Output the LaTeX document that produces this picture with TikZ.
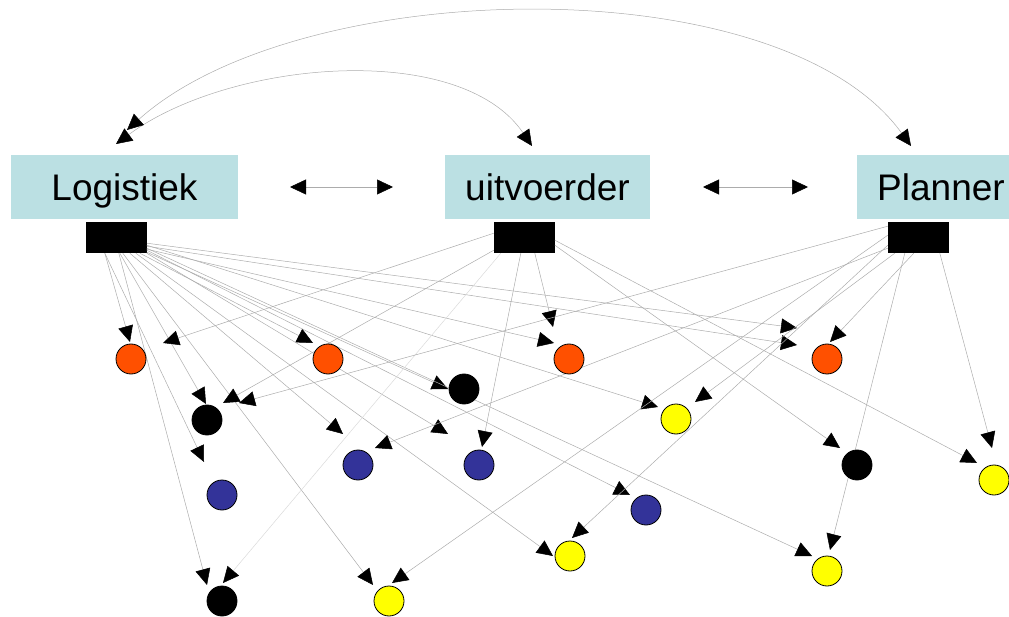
\documentclass[tikz,border=0pt]{standalone}
\usepackage{fontspec}
\setmainfont{Liberation Sans}
\usetikzlibrary{arrows.meta,calc}
\definecolor{boxfill}{RGB}{187,224,227}
\definecolor{orng}{RGB}{255,80,0}
\definecolor{navy}{RGB}{51,51,153}
\definecolor{yel}{RGB}{255,255,0}
\definecolor{wire}{RGB}{172,172,172}
\begin{document}
\begin{tikzpicture}[x=1pt,y=-1pt,
  actor/.style={fill=boxfill, minimum height=64pt, inner sep=0pt,
    font=\fontsize{37}{40}\selectfont, text height=31pt, text depth=3pt},
  port/.style={fill=black, minimum width=61pt, minimum height=31pt, inner sep=0pt},
  dot/.style={circle, draw=black, line width=0.8pt, minimum size=30pt, inner sep=0pt},
  conn/.style={draw=wire, line width=0.5pt, -{Triangle[length=16pt,width=15pt,color=black]}},
  twoway/.style={draw=wire, line width=0.5pt, {Triangle[length=16pt,width=15pt,color=black]}-{Triangle[length=16pt,width=15pt,color=black]}}
  ]
\clip (0,0) rectangle (1009,617);
\useasboundingbox (0,0) rectangle (1009,617);

% actors
\node[actor, minimum width=227pt] (Log) at (124.5,187) {Logistiek};
\node[actor, minimum width=205pt] (Uit) at (547.5,187) {uitvoerder};
\node[actor, minimum width=168pt] (Pla) at (941,187) {Planner};

% ports
\node[port] (rL) at (116.5,237.5) {};
\node[port] (rU) at (524.5,237.5) {};
\node[port] (rP) at (918.5,237.5) {};

% arrow tips
\coordinate (t1) at (130,342);
\coordinate (t2) at (206,404);
\coordinate (t3) at (207,585);
\coordinate (t4) at (313,343);
\coordinate (t5) at (448,389);
\coordinate (t6) at (343,434);
\coordinate (t7) at (373,585);
\coordinate (t8) at (553,556);
\coordinate (t9) at (630,495);
\coordinate (t10) at (812,556);
\coordinate (t11) at (797,328);
\coordinate (t12) at (797,345);
\coordinate (t13) at (554,343);
\coordinate (t14) at (658,407);
\coordinate (t15) at (204,462);
\coordinate (t16) at (448,434);
\coordinate (t17) at (163,343);
\coordinate (t18) at (223,403);
\coordinate (t19) at (553,327);
\coordinate (t20) at (840,448);
\coordinate (t21) at (977,463);
\coordinate (t22) at (482,447);
\coordinate (t23) at (223,583);
\coordinate (t24) at (239,403);
\coordinate (t25) at (375,448);
\coordinate (t26) at (392,583);
\coordinate (t27) at (572,538);
\coordinate (t28) at (695,402);
\coordinate (t29) at (830,342);
\coordinate (t30) at (830,550);
\coordinate (t31) at (992,448);

% from Logistiek port
\draw[conn] ($(rL.south west)+(19,0)$) -- (t1);
\draw[conn] ($(rL.south west)+(34,0)$) -- (t2);
\draw[conn] ($(rL.south west)+(33,0)$) -- (t3);
\draw[conn] ($(rL.south west)+(54,0)$) -- (t4);
\draw[conn] ($(rL.south west)+(61,-1)$) -- (t5);
\draw[conn] ($(rL.south west)+(44,0)$) -- (t6);
\draw[conn] ($(rL.south west)+(37,0)$) -- (t7);
\draw[conn] ($(rL.south west)+(50,0)$) -- (t8);
\draw[conn] ($(rL.south west)+(61,-3)$) -- (t9);
\draw[conn] ($(rL.south west)+(61,-5)$) -- (t10);
\draw[conn] ($(rL.south west)+(61,-10)$) -- (t11);
\draw[conn] ($(rL.south west)+(61,-7)$) -- (t12);
\draw[conn] ($(rL.south west)+(61,-4)$) -- (t13);
\draw[conn] ($(rL.south west)+(61,-8)$) -- (t14);
\draw[conn] ($(rL.south west)+(19,0)$) -- (t15);
\draw[conn] ($(rL.south west)+(61,0)$) -- (t16);

% from uitvoerder port
\draw[conn] ($(rU.south west)+(0,-20)$) -- (t17);
\draw[conn] ($(rU.south west)+(0,-3)$) -- (t18);
\draw[conn] ($(rU.south west)+(41,0)$) -- (t19);
\draw[conn] ($(rU.south west)+(61,-8)$) -- (t20);
\draw[conn] ($(rU.south west)+(61,-13)$) -- (t21);
\draw[conn] ($(rU.south west)+(27,0)$) -- (t22);
\draw[conn, draw=wire!45] ($(rU.south west)+(7,0)$) -- (t23);

% from Planner port
\draw[conn] ($(rP.south west)+(0,-27)$) -- (t24);
\draw[conn] ($(rP.south west)+(0,-5)$) -- (t25);
\draw[conn] ($(rP.south west)+(0,-18)$) -- (t26);
\draw[conn] ($(rP.south west)+(0,-8)$) -- (t27);
\draw[conn] ($(rP.south west)+(7,0)$) -- (t28);
\draw[conn] ($(rP.south west)+(26,0)$) -- (t29);
\draw[conn] ($(rP.south west)+(17,0)$) -- (t30);
\draw[conn] ($(rP.south west)+(52,0)$) -- (t31);

% circles
\node[dot, fill=orng] (o1) at (131,359) {};
\node[dot, fill=orng] (o2) at (328,359) {};
\node[dot, fill=orng] (o3) at (569,359) {};
\node[dot, fill=orng] (o4) at (827,359) {};
\node[dot, fill=black] (b1) at (207,420) {};
\node[dot, fill=black] (b2) at (464,389) {};
\node[dot, fill=black] (b3) at (857,465) {};
\node[dot, fill=black] (b4) at (222,601) {};
\node[dot, fill=navy] (u1) at (358,465) {};
\node[dot, fill=navy] (u2) at (479,465) {};
\node[dot, fill=navy] (u3) at (222,495) {};
\node[dot, fill=navy] (u4) at (646,510) {};
\node[dot, fill=yel] (y1) at (676,419) {};
\node[dot, fill=yel] (y2) at (994,480) {};
\node[dot, fill=yel] (y3) at (570,556) {};
\node[dot, fill=yel] (y4) at (827,571) {};
\node[dot, fill=yel] (y5) at (389,601) {};

% horizontal two-way arrows
\coordinate (h1a) at (290,187);
\coordinate (h1b) at (393,187);
\coordinate (h2a) at (703,187);
\coordinate (h2b) at (808,187);
\draw[twoway] (h1a) -- (h1b);
\draw[twoway] (h2a) -- (h2b);

% top arcs
\coordinate (a1a) at (116,144);
\coordinate (a1b) at (532,146);
\coordinate (a2a) at (127,130);
\coordinate (a2b) at (911,146);
\draw[twoway] (a1a) .. controls (230,60) and (460,40) .. (a1b);
\draw[twoway] (a2a) .. controls (300,-25) and (780,-35) .. (a2b);
\end{tikzpicture}
\end{document}
